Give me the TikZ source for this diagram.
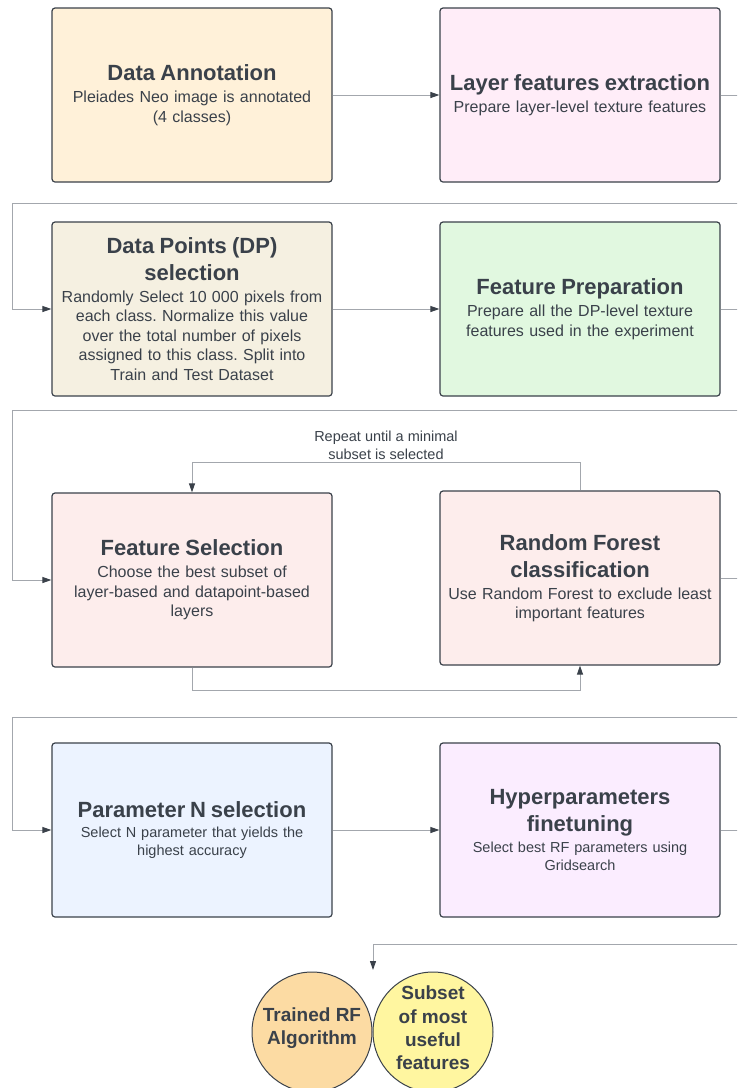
\documentclass[tikz,border=0pt]{standalone}
\usepackage{fontspec}
\setmainfont{Liberation Sans}
\usepackage{xcolor}
\usepackage{tikz}
\usetikzlibrary{positioning, calc, arrows.meta}
\frenchspacing

\definecolor{inkcol}{HTML}{3A414A}
\definecolor{linecol}{HTML}{A3A7AD}
\definecolor{annotfill}{HTML}{FFF1D9}
\definecolor{layerfill}{HTML}{FFEDF8}
\definecolor{dpfill}{HTML}{F5F0E1}
\definecolor{prepfill}{HTML}{E1F8E0}
\definecolor{selfill}{HTML}{FDEDEC}
\definecolor{paramfill}{HTML}{ECF3FF}
\definecolor{hyperfill}{HTML}{FBEDFF}
\definecolor{rffill}{HTML}{FCDBA3}
\definecolor{subfill}{HTML}{FFF6A0}

\newcommand{\steptitle}[1]{{\fontsize{22}{27}\selectfont\bfseries #1\par}\vspace{2.5pt}}

\tikzset{
    stepbox/.style={draw=inkcol, line width=1.2pt, rounded corners=3pt, text=inkcol,
        minimum width=280pt, minimum height=174pt, text width=276pt, inner xsep=2pt,
        align=center, font=\fontsize{16}{19.5}\selectfont},
    smallbody/.style={font=\fontsize{14.5}{18}\selectfont},
    result/.style={circle, draw=inkcol, line width=1pt, minimum size=120pt, inner sep=0pt},
    resulttext/.style={text=inkcol, align=center, font=\fontsize{19}{23.3}\selectfont\bfseries},
    flow/.style={draw=linecol, line width=1pt, -{Triangle[length=9pt,width=6pt,color=inkcol]}},
}

\begin{document}
\begin{tikzpicture}[x=1pt, y=-1pt]
    \useasboundingbox (0,0) rectangle (737,1088);
    \clip (0,0) rectangle (737,1088);

    % row 1
    \node[stepbox, fill=annotfill] (annot) at (192,95) {\steptitle{Data Annotation}Pleiades Neo image is annotated\\(4 classes)};
    \node[stepbox, fill=layerfill] (layer) at (580,95) {\steptitle{Layer features extraction}Prepare layer-level texture features};
    % row 2
    \node[stepbox, fill=dpfill] (dpsel) at (192,309) {\steptitle{Data Points (DP)\\selection}Randomly Select 10 000 pixels from\\each class. Normalize this value\\over the total number of pixels\\assigned to this class. Split into\\Train and Test Dataset};
    \node[stepbox, fill=prepfill] (prep) at (580,309) {\steptitle{Feature Preparation}Prepare all the DP-level texture\\features used in the experiment};
    % row 3
    \node[stepbox, fill=selfill] (featsel) at (192,580) {\steptitle{Feature Selection}Choose the best subset of\\layer-based and datapoint-based\\layers};
    \node[stepbox, fill=selfill] (rfclass) at (580,578) {\steptitle{Random Forest\\classification}Use Random Forest to exclude least\\important features};
    % row 4
    \node[stepbox, smallbody, fill=paramfill] (paramn) at (192,830) {\steptitle{Parameter N selection}Select N parameter that yields the\\highest accuracy};
    \node[stepbox, smallbody, fill=hyperfill] (hyper) at (580,830) {\steptitle{Hyperparameters\\finetuning}Select best RF parameters using\\Gridsearch};
    % outputs
    \node[result, fill=rffill] (trained) at (312,1032) {};
    \node[result, fill=subfill] (subset) at (433,1032) {};
    \node[resulttext] (trainedtxt) at ([yshift=4pt]trained.center) {Trained RF\\Algorithm};
    \node[resulttext] (subsettxt) at ([yshift=4pt]subset.center) {Subset\\of most\\useful\\features};
    \coordinate (join) at (373,970);

    \node[text=inkcol, align=center, font=\fontsize{14.5}{18}\selectfont] (repeat) at (386,445) {Repeat until a minimal\\subset is selected};

    \draw[flow] (annot.east) -- (layer.west);
    \draw[flow] (layer.east) -- ++(30,0) |- (12,203) |- (dpsel.west);
    \draw[flow] (dpsel.east) -- (prep.west);
    \draw[flow] (prep.east) -- ++(30,0) |- (12,410) |- (featsel.west);
    \draw[flow] (featsel.south) -- ++(0,23) -| (rfclass.south);
    \draw[flow] (rfclass.north) -- ++(0,-28) -| (featsel.north);
    \draw[flow] (rfclass.east) -- ++(30,0) |- (12,717) |- (paramn.west);
    \draw[flow] (paramn.east) -- (hyper.west);
    \draw[flow] (hyper.east) -- ++(30,0) |- ([yshift=26pt]join) -- (join);
\end{tikzpicture}
\end{document}
